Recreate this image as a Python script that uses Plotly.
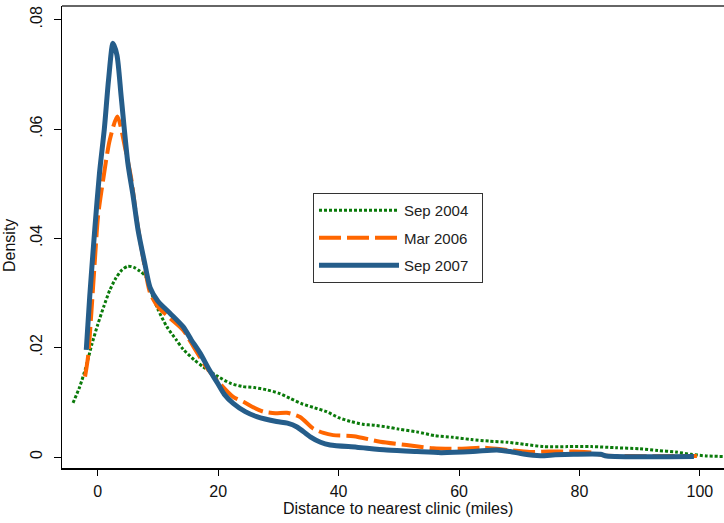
import plotly.graph_objects as go

# ---- data ----
sep2004_x = [-4.1, -3.0, -2.0, -1.0, 0.0, 1.0, 2.0, 3.0, 4.0, 5.0, 6.0, 7.0, 8.0, 9.0, 10.0,
             11.5, 13.0, 14.2, 16.0, 17.5, 20.0, 22.0, 24.0, 26.0, 28.0, 30.0, 32.0, 34.0,
             36.0, 38.0, 40.0, 42.0, 44.0, 46.0, 48.0, 50.0, 53.0, 56.0, 59.0, 62.0, 65.0,
             68.0, 71.0, 74.0, 78.0, 82.0, 86.0, 90.0, 93.0, 96.0, 98.5, 101.0, 103.9]
sep2004_y = [0.0099, 0.0128, 0.0163, 0.0205, 0.0242, 0.0275, 0.0305, 0.0327, 0.0342, 0.0349,
             0.0347, 0.0340, 0.0330, 0.0298, 0.0270, 0.0238, 0.0215, 0.0197, 0.0178, 0.0165,
             0.0147, 0.0135, 0.0129, 0.0127, 0.0123, 0.0117, 0.0107, 0.0097, 0.0090, 0.0083,
             0.0072, 0.0065, 0.0060, 0.0058, 0.0055, 0.0051, 0.0046, 0.0039, 0.0036, 0.0032,
             0.0029, 0.0027, 0.0023, 0.0019, 0.0019, 0.0019, 0.0017, 0.0015, 0.0012, 0.0009,
             0.0005, 0.0002, 0.0001]

mar2006_x = [-2.1, -1.6, -1.06, -0.5, 0.05, 0.9, 2.0, 3.26, 4.5, 5.6, 6.4, 7.5, 8.7, 10.0,
             12.0, 14.2, 16.0, 18.0, 20.0, 22.5, 24.2, 26.0, 27.5, 29.5, 31.4, 33.6, 35.8,
             37.5, 39.1, 42.5, 46.9, 51.3, 55.7, 60.2, 64.0, 67.0, 71.8, 75.0, 79.0, 82.0,
             84.0, 99.5]
mar2006_y = [0.0147, 0.0184, 0.0263, 0.0355, 0.0440, 0.0507, 0.0580, 0.0623, 0.0568, 0.0507,
             0.0440, 0.0367, 0.0300, 0.0275, 0.0254, 0.0232, 0.0200, 0.0165, 0.0138, 0.0110,
             0.0101, 0.0090, 0.0083, 0.0080, 0.0081, 0.0073, 0.0052, 0.0044, 0.0040, 0.0038,
             0.0028, 0.0022, 0.0016, 0.0015, 0.0017, 0.0014, 0.0009, 0.0010, 0.0010, 0.0008,
             0.0003, 0.0002]

sep2007_x = [-1.9, -1.33, -0.5, 0.3, 1.1, 1.8, 2.54, 3.2, 3.9, 5.0, 5.9, 6.7, 7.8, 8.7, 10.0,
             12.0, 14.2, 15.5, 17.0, 18.5, 19.8, 21.0, 22.5, 24.5, 26.4, 29.7, 31.5, 33.1,
             35.3, 37.0, 38.6, 43.0, 48.0, 53.0, 57.0, 62.3, 66.3, 68.5, 70.7, 73.5, 76.0,
             79.0, 83.5, 84.5, 99.0]
sep2007_y = [0.0196, 0.0293, 0.0415, 0.0520, 0.0600, 0.0690, 0.0757, 0.0735, 0.0659, 0.0538,
             0.0476, 0.0415, 0.0355, 0.0310, 0.0285, 0.0263, 0.0238, 0.0215, 0.0190, 0.0160,
             0.0137, 0.0115, 0.0098, 0.0083, 0.0074, 0.0065, 0.0062, 0.0055, 0.0037, 0.0027,
             0.0022, 0.0018, 0.0013, 0.0010, 0.0008, 0.0010, 0.0013, 0.0010, 0.00055, 0.00025,
             0.0004, 0.0005, 0.0005, 0.0002, 0.0001]

series_names = ["Sep 2004", "Mar 2006", "Sep 2007"]
x_ticks = [0, 20, 40, 60, 80, 100]
x_tick_labels = ["0", "20", "40", "60", "80", "100"]
y_ticks = [0, 0.02, 0.04, 0.06, 0.08]
y_tick_labels = ["0", ".02", ".04", ".06", ".08"]

FONT = "Liberation Sans, Arial, sans-serif"
PAD = "\u00a0\u00a0"  # right padding inside the legend box

fig = go.Figure()
fig.add_trace(go.Scatter(x=sep2004_x, y=sep2004_y, mode="lines", name=series_names[0] + PAD,
                         legendgroup="a",
                         line=dict(color="#0a7a0a", width=3, dash="3px,2px", shape="spline", smoothing=0.7)))
fig.add_trace(go.Scatter(x=mar2006_x, y=mar2006_y, mode="lines", name=series_names[1] + PAD,
                         legendgroup="b",
                         line=dict(color="#ff6600", width=4, dash="22px,6px", shape="spline", smoothing=0.7)))
fig.add_trace(go.Scatter(x=sep2007_x, y=sep2007_y, mode="lines", name=series_names[2] + PAD,
                         legendgroup="c",
                         line=dict(color="#255d8a", width=5, shape="spline", smoothing=0.7)))

fig.update_layout(
    width=724, height=523,
    margin=dict(l=62, r=0, t=6, b=55, autoexpand=False),
    paper_bgcolor="white", plot_bgcolor="white",
    font=dict(family=FONT, color="#111"),
    showlegend=True,
    legend=dict(x=(313 - 62) / 662, y=(468 - 193) / 462, xanchor="left", yanchor="top",
                bordercolor="#333", borderwidth=1, bgcolor="white",
                font=dict(size=15, family=FONT, color="#222"),
                tracegroupgap=5, itemwidth=80),
    xaxis=dict(range=[-5.93, 104.0], tickvals=x_ticks, ticktext=x_tick_labels,
               automargin=False,
               showgrid=False, zeroline=False, showline=True, linecolor="black", linewidth=2,
               ticks="outside", ticklen=6, tickcolor="black", tickwidth=1,
               tickfont=dict(size=16, family=FONT, color="#111"), ticklabelstandoff=2),
    yaxis=dict(range=[-0.00201, 0.0825], tickvals=y_ticks, ticktext=y_tick_labels,
               automargin=False,
               showgrid=False, zeroline=False, showline=True, linecolor="black", linewidth=1,
               ticks="outside", ticklen=7, tickcolor="black", tickwidth=1, tickangle=-90,
               tickfont=dict(size=16, family=FONT, color="#111"), ticklabelstandoff=6),
    shapes=[dict(type="line", xref="paper", yref="paper", x0=0, x1=1, y0=1, y1=1,
                 line=dict(color="#666", width=2))],
    annotations=[
        dict(text="Distance to nearest clinic (miles)", xref="paper", yref="paper",
             x=(398 - 62) / 662, y=-(508 - 468) / 462, xanchor="center", yanchor="middle",
             showarrow=False, font=dict(size=16, family=FONT, color="#111")),
        dict(text="Density", xref="paper", yref="paper", textangle=-90,
             x=-(62 - 10) / 662, y=(468 - 246) / 462, xanchor="center", yanchor="middle",
             showarrow=False, font=dict(size=16, family=FONT, color="#111")),
    ],
)

fig.write_html("out.html", config={"displayModeBar": False},
               post_script="document.body.style.margin='0';document.body.style.padding='0';")
